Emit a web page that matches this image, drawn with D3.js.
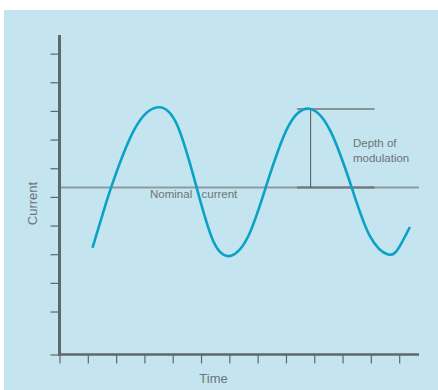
<!DOCTYPE html>
<html>
<head>
<meta charset="utf-8">
<script src="https://cdn.jsdelivr.net/npm/d3@7"></script>
<style>
  html, body { margin: 0; padding: 0; background: #ffffff; }
  svg { display: block; }
  text { font-family: "Liberation Sans", Arial, Helvetica, sans-serif; }
</style>
</head>
<body>
<div id="chart"></div>
<script>
// ---- Data ----
const timeTicks = [0, 1, 2, 3, 4, 5, 6, 7, 8, 9, 10, 11, 12];
const currentTicks = [1.5, 2.5, 3.5, 4.5, 5.5, 6.5, 7.5, 8.5, 9.5, 10.5];

// Modulated current waveform samples (time, current)
const waveTime = [1.165, 1.495, 1.825, 2.66, 3.494, 4.169, 4.843, 5.434, 6.025, 6.655,
                  7.286, 8.077, 8.867, 9.594, 10.321, 10.967, 11.613, 11.996, 12.379];
const waveCurrent = [3.72, 4.80, 5.83, 7.88, 8.63, 7.98, 5.83, 3.95, 3.44, 4.10,
                     5.83, 7.95, 8.57, 7.75, 5.83, 4.13, 3.49, 3.74, 4.45];

const nominalCurrent = 5.83;
const peakCurrent = 8.57;
const peakTime = 8.87;
const depthSpan = [8.39, 11.13];   // time extent of the depth-of-modulation bars

const labels = {
  x: "Time",
  y: "Current",
  nominal: ["Nominal", "current"],
  depth: ["Depth of", "modulation"]
};

// ---- Layout ----
const W = 438, H = 390;
const svg = d3.select("#chart").append("svg").attr("width", W).attr("height", H);

svg.append("rect").attr("x", 4).attr("y", 10).attr("width", W - 4).attr("height", H - 10)
  .attr("fill", "#c4e4ef");

const x = d3.scaleLinear().domain([0, 12.7]).range([59.5, 419]);
const y = d3.scaleLinear().domain([0, 11.15]).range([354.5, 35]);

const axisColor = "#5e686c";
const textColor = "#6b7478";

// Nominal current line
svg.append("line")
  .attr("x1", x(0)).attr("x2", x(12.7))
  .attr("y1", y(nominalCurrent)).attr("y2", y(nominalCurrent))
  .attr("stroke", "#8f9a9e").attr("stroke-width", 2);

// Nominal label
svg.append("text").attr("x", 150).attr("y", y(nominalCurrent) + 11)
  .attr("font-size", 11.5).attr("fill", textColor).text(labels.nominal[0]);
svg.append("text").attr("x", 201.5).attr("y", y(nominalCurrent) + 11)
  .attr("font-size", 11.5).attr("fill", textColor).text(labels.nominal[1]);

// Depth of modulation markers
svg.append("line")
  .attr("x1", x(depthSpan[0])).attr("x2", x(depthSpan[1]))
  .attr("y1", y(peakCurrent)).attr("y2", y(peakCurrent))
  .attr("stroke", "#899397").attr("stroke-width", 2);
svg.append("line")
  .attr("x1", x(depthSpan[0])).attr("x2", x(depthSpan[1]))
  .attr("y1", y(nominalCurrent)).attr("y2", y(nominalCurrent))
  .attr("stroke", "#6c7579").attr("stroke-width", 2);
svg.append("line")
  .attr("x1", x(peakTime)).attr("x2", x(peakTime))
  .attr("y1", y(peakCurrent)).attr("y2", y(nominalCurrent))
  .attr("stroke", "#5a6468").attr("stroke-width", 1.1);

const depthText = svg.append("text").attr("font-size", 11.5).attr("fill", textColor);
depthText.append("tspan").attr("x", 353).attr("y", 146.5).text(labels.depth[0]);
depthText.append("tspan").attr("x", 353).attr("y", 162).text(labels.depth[1]);

// Waveform
const wave = waveTime.map((t, i) => [t, waveCurrent[i]]);
svg.append("path")
  .datum(wave)
  .attr("fill", "none")
  .attr("stroke", "#0aa2c6")
  .attr("stroke-width", 2.6)
  .attr("stroke-linecap", "butt")
  .attr("d", d3.line().x(d => x(d[0])).y(d => y(d[1])).curve(d3.curveNatural));

// Axes
const yAxis = svg.append("g").attr("transform", `translate(${x(0)},0)`)
  .call(d3.axisLeft(y).tickValues([0].concat(currentTicks)).tickSize(9).tickSizeOuter(0).tickFormat(""));
yAxis.select(".domain").remove();
yAxis.selectAll(".tick line").attr("stroke", axisColor).attr("stroke-width", 1.2);

const xAxis = svg.append("g").attr("transform", `translate(0,${y(0)})`)
  .call(d3.axisBottom(x).tickValues(timeTicks).tickSize(9).tickSizeOuter(0).tickFormat(""));
xAxis.select(".domain").remove();
xAxis.selectAll(".tick line").attr("stroke", axisColor).attr("stroke-width", 1.2);

svg.append("line").attr("x1", x(0)).attr("x2", x(0)).attr("y1", y(11.15)).attr("y2", y(0) + 1)
  .attr("stroke", axisColor).attr("stroke-width", 3);
svg.append("line").attr("x1", x(0) - 1.5).attr("x2", x(12.7)).attr("y1", y(0)).attr("y2", y(0))
  .attr("stroke", axisColor).attr("stroke-width", 2.7);

// Axis titles
svg.append("text").attr("x", 213.5).attr("y", 382.5).attr("text-anchor", "middle")
  .attr("font-size", 13).attr("fill", textColor).text(labels.x);
svg.append("text").attr("transform", `translate(36.5,203.5) rotate(-90)`)
  .attr("text-anchor", "middle").attr("font-size", 13).attr("fill", textColor).text(labels.y);
</script>
</body>
</html>
